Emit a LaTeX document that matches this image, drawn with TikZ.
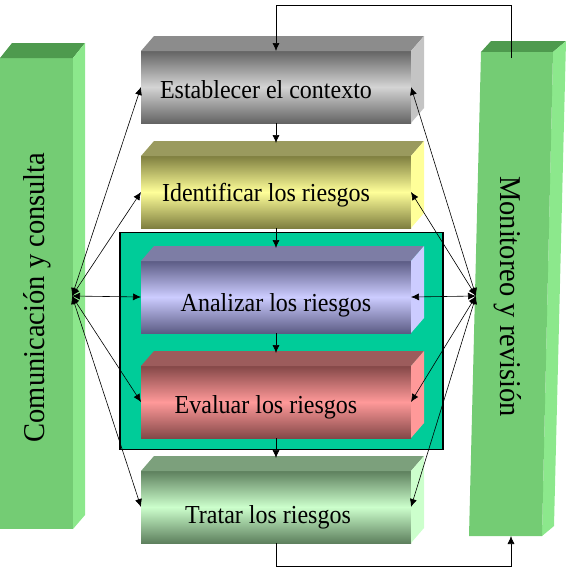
\documentclass[tikz,border=0pt]{standalone}
\usepackage{fontspec}
\setmainfont{Liberation Serif}
\usetikzlibrary{arrows.meta,calc}
\definecolor{estD}{HTML}{646464}\definecolor{estL}{HTML}{D4D4D4}\definecolor{estT}{HTML}{8C8C8C}\definecolor{estS}{HTML}{C4C4C4}
\definecolor{ideD}{HTML}{7F7F40}\definecolor{ideL}{HTML}{FFFF99}\definecolor{ideT}{HTML}{9A9A5E}\definecolor{ideS}{HTML}{FFFF99}
\definecolor{anaD}{HTML}{5C5C85}\definecolor{anaL}{HTML}{CCCCFF}\definecolor{anaT}{HTML}{7D7DA5}\definecolor{anaS}{HTML}{CCCCFF}
\definecolor{evaD}{HTML}{844848}\definecolor{evaL}{HTML}{FF9999}\definecolor{evaT}{HTML}{9C5C5C}\definecolor{evaS}{HTML}{FF9999}
\definecolor{traD}{HTML}{5E805E}\definecolor{traL}{HTML}{CCFFCC}\definecolor{traT}{HTML}{7CA07C}\definecolor{traS}{HTML}{CCFFCC}
\definecolor{colF}{HTML}{74CC74}\definecolor{colT}{HTML}{4E9A4E}\definecolor{colS}{HTML}{8CE88C}
\definecolor{grpC}{HTML}{00CC99}
\newcommand{\tallA}[1]{\scalebox{1}[1.08]{#1}}
\newcommand{\tallB}[1]{\scalebox{1}[1.06]{#1}}
\begin{document}
\begin{tikzpicture}[x=1pt,y=-1pt,
  front/.style 2 args={minimum width=270pt,minimum height=72pt,inner sep=0pt,outer sep=0pt,
    top color=#1,bottom color=#1,middle color=#2},
  lbl/.style={font=\fontsize{24}{28}\selectfont,anchor=base,inner sep=0pt},
  collbl/.style={font=\fontsize{28.5}{32}\selectfont,anchor=base,inner sep=0pt},
  conn/.style={{Latex[length=8pt,width=7pt]}-{Latex[length=8pt,width=7pt]},line width=0.6pt},
  flow/.style={-{Latex[length=8pt,width=7pt]},line width=0.6pt}]
\useasboundingbox (0,0) rectangle (566,571);
% left column
\node[fill=colF,minimum width=73pt,minimum height=471pt,inner sep=0pt,outer sep=0pt] (lcol) at (36.5,293.5) {};
\fill[colT] (lcol.north west) -- ++(12,-15) -- ($(lcol.north east)+(12,-15)$) -- (lcol.north east) -- cycle;
\fill[colS] (lcol.north east) -- ++(12,-15) -- ($(lcol.south east)+(12,-14)$) -- (lcol.south east) -- cycle;
% right column
\fill[colT] (481,52) -- (491,41) -- (566,41) -- (553,52) -- cycle;
\fill[colS] (553,52) -- (566,41) -- (554,526) -- (542,536) -- cycle;
\fill[colF] (481,52) -- (553,52) -- (542,536) -- (469,536) -- cycle;
\coordinate (rtop) at (511,58);
\coordinate (rbot) at (511,536);
\coordinate (lhub) at (72,296);
\coordinate (rhub) at (476,296);
% group
\node[draw,fill=grpC,line width=1.3pt,minimum width=323pt,minimum height=217pt,inner sep=0pt,outer sep=0pt] (grp) at (281.5,341) {};
% boxes
\node[front={estD}{estL}] (est) at (276,87) {};
\node[front={ideD}{ideL}] (ide) at (276,192) {};
\node[front={anaD}{anaL}] (ana) at (276,297) {};
\node[front={evaD}{evaL}] (eva) at (276,402) {};
\node[front={traD}{traL}] (tra) at (276,507) {};
\foreach \n/\t/\s in {est/estT/estS,ide/ideT/ideS,ana/anaT/anaS,eva/evaT/evaS,tra/traT/traS}{
  \fill[\t] (\n.north west) -- ++(13,-15) -- ($(\n.north east)+(13,-15)$) -- (\n.north east) -- cycle;
  \fill[\s] (\n.north east) -- ++(13,-15) -- ($(\n.south east)+(13,-15)$) -- (\n.south east) -- cycle;
}
% labels
\node[lbl] (tEst) at (266,98) {\tallA{Establecer el contexto}};
\node[lbl] (tIde) at (266,201) {\tallA{Identificar los riesgos}};
\node[lbl] (tAna) at (276,311) {\tallA{Analizar los riesgos}};
\node[lbl] (tEva) at (266,413) {\tallA{Evaluar los riesgos}};
\node[lbl] (tTra) at (268,523) {\tallA{Tratar los riesgos}};
\node[collbl,rotate=90] (tCom) at (45,297.5) {\tallB{Comunicación y consulta}};
\node[collbl,rotate=-90] (tMon) at (500,296.5) {\tallB{Monitoreo y revisión}};
% flow arrows
\draw[flow] (est.south) -- ($(ide.north)+(0,-13)$);
\draw[flow] (ide.south) -- ($(ana.north)+(0,-13)$);
\draw[flow] (ana.south) -- ($(eva.north)+(0,-13)$);
\draw[flow] (eva.south) -- ($(tra.north)+(0,-13)$);
\draw[flow] (rtop) -- ++(0,-53) -| (est.north);
\draw[flow] (tra.south) -- ++(0,23) -| (rbot);
% communication arrows
\foreach \n in {est,ide,ana,eva,tra}{
  \draw[conn] (lhub) -- (\n.west);
  \draw[conn] (rhub) -- (\n.east);
}
\end{tikzpicture}
\end{document}
